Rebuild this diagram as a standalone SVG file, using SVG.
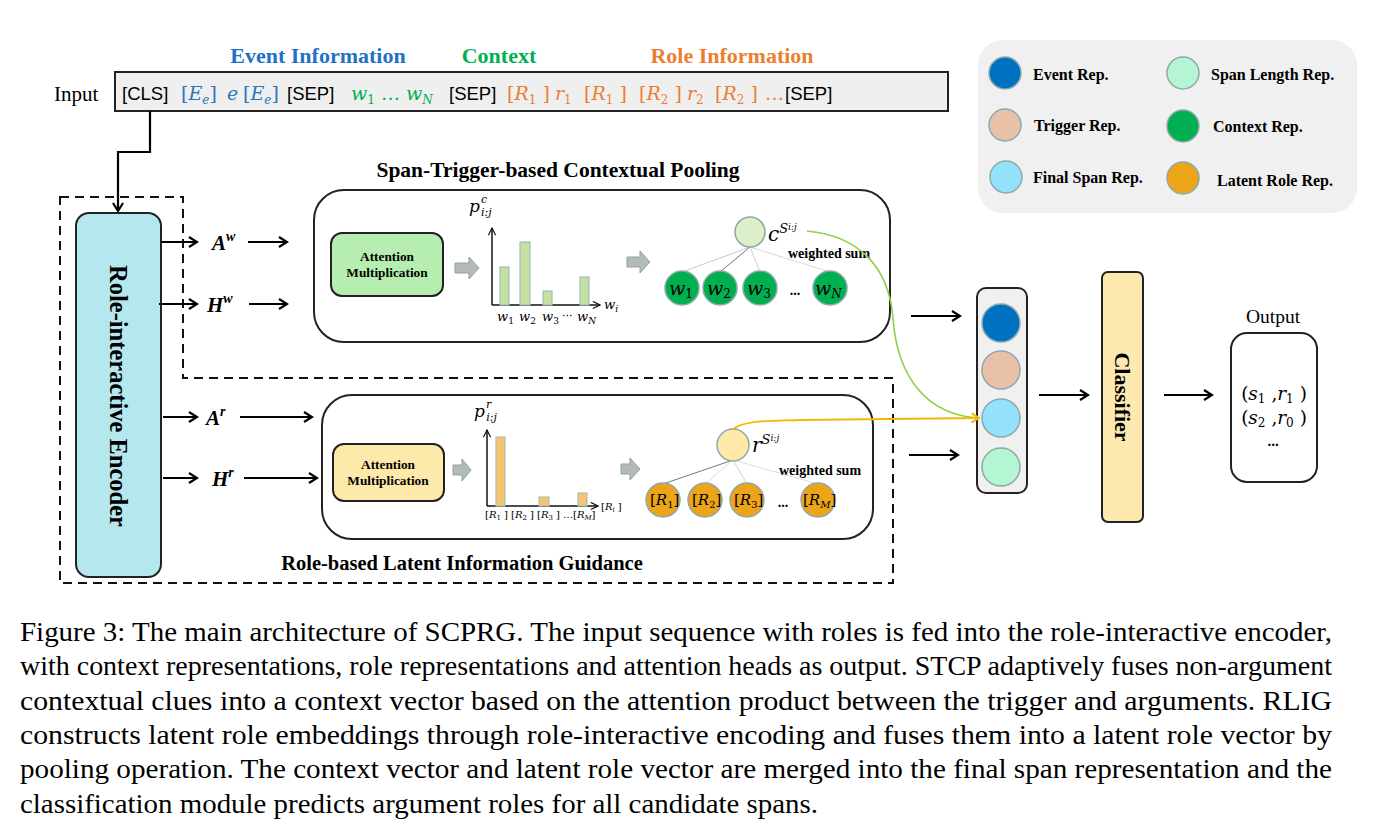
<svg xmlns="http://www.w3.org/2000/svg" width="1378" height="835" viewBox="0 0 1378 835">
<defs>
<style>
.ser{font-family:"Liberation Serif","Times New Roman",serif}
.bs{font-family:"Liberation Serif","Times New Roman",serif;font-weight:bold}
.sans{font-family:"Liberation Sans",Arial,sans-serif}
.m{font-family:"DejaVu Serif","Liberation Serif",serif}
.it{font-style:italic}
.box{stroke:#222;stroke-width:2}
.lg{stroke:#8fa8aa;stroke-width:1.5}
.ar{stroke:#000;stroke-width:2.2;fill:none}
.ga{fill:#b3baba;stroke:#8ea3a3;stroke-width:1}
.bar1{fill:#c6e0a0;stroke:#9fbfbf;stroke-width:1.2}
.bar2{fill:#f6c56c;stroke:#a8c0c0;stroke-width:1.2}
.ax{stroke:#111;stroke-width:1.5;fill:none}
</style>
<marker id="ah" viewBox="0 0 12 12" refX="10" refY="6" markerWidth="12" markerHeight="12" markerUnits="userSpaceOnUse" orient="auto">
<path d="M2,1 L10,6 L2,11" fill="none" stroke="#000" stroke-width="2.2"/>
</marker>
<marker id="axh" viewBox="0 0 10 10" refX="9" refY="5" markerWidth="9" markerHeight="9" markerUnits="userSpaceOnUse" orient="auto">
<path d="M1,1 L9,5 L1,9" fill="none" stroke="#111" stroke-width="1.3"/>
</marker>
<marker id="ahg" viewBox="0 0 12 12" refX="10" refY="6" markerWidth="11" markerHeight="11" markerUnits="userSpaceOnUse" orient="auto">
<path d="M2,1 L10,6 L2,11" fill="none" stroke="#8fd04a" stroke-width="1.6"/>
</marker>
<marker id="ahy" viewBox="0 0 12 12" refX="10" refY="6" markerWidth="11" markerHeight="11" markerUnits="userSpaceOnUse" orient="auto">
<path d="M2,1 L10,6 L2,11" fill="none" stroke="#f5b800" stroke-width="1.8"/>
</marker>
</defs>
<rect width="1378" height="835" fill="#fff"/>

<g id="input">
<text class="bs" x="318" y="63" font-size="22" fill="#1f72c4" text-anchor="middle">Event Information</text>
<text class="bs" x="499" y="63" font-size="22" fill="#00b050" text-anchor="middle">Context</text>
<text class="bs" x="732" y="63" font-size="22" fill="#ed7d31" text-anchor="middle">Role Information</text>
<text class="ser" x="54" y="101" font-size="21">Input</text>
<rect x="115" y="72" width="833" height="39" fill="#efefef" class="box"/>
<text class="sans" x="122" y="100" font-size="18.5">[CLS]</text>
<text class="m" x="181" y="100" font-size="19" fill="#2e75b6">[<tspan class="it">E</tspan><tspan font-size="12" dy="4" class="it">e</tspan><tspan dy="-4">]</tspan></text>
<text class="m it" x="227" y="100" font-size="19" fill="#2e75b6">e</text>
<text class="m" x="243" y="100" font-size="19" fill="#2e75b6">[<tspan class="it">E</tspan><tspan font-size="12" dy="4" class="it">e</tspan><tspan dy="-4">]</tspan></text>
<text class="sans" x="287" y="100" font-size="18.5">[SEP]</text>
<text class="m" x="351" y="100" font-size="19" fill="#00b050"><tspan class="it">w</tspan><tspan font-size="12" dy="4">1</tspan><tspan dy="-4"> … </tspan><tspan class="it">w</tspan><tspan font-size="12" dy="4" class="it">N</tspan></text>
<text class="sans" x="449" y="100" font-size="18.5">[SEP]</text>
<text class="m" x="507" y="100" font-size="19" fill="#ed7d31">[<tspan class="it">R</tspan><tspan font-size="12" dy="4">1</tspan><tspan dy="-4"> ]</tspan></text>
<text class="m" x="555" y="100" font-size="19" fill="#ed7d31"><tspan class="it">r</tspan><tspan font-size="12" dy="4">1</tspan></text>
<text class="m" x="584" y="100" font-size="19" fill="#ed7d31">[<tspan class="it">R</tspan><tspan font-size="12" dy="4">1</tspan><tspan dy="-4"> ]</tspan></text>
<text class="m" x="639" y="100" font-size="19" fill="#ed7d31">[<tspan class="it">R</tspan><tspan font-size="12" dy="4">2</tspan><tspan dy="-4"> ]</tspan></text>
<text class="m" x="687" y="100" font-size="19" fill="#ed7d31"><tspan class="it">r</tspan><tspan font-size="12" dy="4">2</tspan></text>
<text class="m" x="715" y="100" font-size="19" fill="#ed7d31">[<tspan class="it">R</tspan><tspan font-size="12" dy="4">2</tspan><tspan dy="-4"> ]</tspan></text>
<text class="m" x="765" y="100" font-size="19" fill="#ed7d31">…</text>
<text class="sans" x="785" y="100" font-size="18.5">[SEP]</text>
</g>

<g id="legend">
<rect x="978" y="40" width="379" height="173" rx="25" fill="#f0f0f0"/>
<circle cx="1005" cy="73" r="16" fill="#0070c0" class="lg"/>
<circle cx="1005" cy="125" r="16" fill="#e9c1a9" class="lg"/>
<circle cx="1006" cy="177" r="16" fill="#94e1fb" class="lg"/>
<circle cx="1183" cy="73" r="16" fill="#b4f5d4" class="lg"/>
<circle cx="1183" cy="126" r="16" fill="#00b050" class="lg"/>
<circle cx="1183" cy="178" r="16" fill="#eca419" class="lg"/>
<text class="bs" font-size="16" x="1033" y="80">Event Rep.</text>
<text class="bs" font-size="16" x="1034" y="131">Trigger Rep.</text>
<text class="bs" font-size="16" x="1033" y="183">Final Span Rep.</text>
<text class="bs" font-size="16" x="1211" y="80">Span Length Rep.</text>
<text class="bs" font-size="16" x="1213" y="132">Context Rep.</text>
<text class="bs" font-size="16" x="1217" y="186">Latent Role Rep.</text>
</g>

<g id="dashed-region">
<path d="M60,197 H183 V378 H893 V583 H60 Z" fill="none" stroke="#111" stroke-width="2" stroke-dasharray="9,6"/>
</g>

<g id="encoder">
<rect x="76" y="213" width="85" height="364" rx="13" fill="#b5e8ee" class="box"/>
<text class="bs" font-size="24.5" transform="translate(110,396) rotate(90)" text-anchor="middle">Role-interactive Encoder</text>
</g>

<g id="labels-AH">
<text class="bs it" x="212" y="250" font-size="21">A<tspan font-size="14" dy="-9">w</tspan></text>
<text class="bs it" x="207" y="312" font-size="21">H<tspan font-size="14" dy="-9">w</tspan></text>
<text class="bs it" x="206" y="425" font-size="21">A<tspan font-size="14" dy="-9">r</tspan></text>
<text class="bs it" x="212" y="486" font-size="21">H<tspan font-size="14" dy="-9">r</tspan></text>
</g>

<g id="stcp">
<text class="bs" x="558" y="177" font-size="21.5" text-anchor="middle">Span-Trigger-based Contextual Pooling</text>
<rect x="314" y="190" width="576" height="152" rx="30" fill="#fff" class="box"/>
<rect x="331" y="233" width="112" height="63" rx="11" fill="#b5eeb0" class="box"/>
<text class="bs" x="387" y="261" font-size="13.3" text-anchor="middle">Attention</text>
<text class="bs" x="387" y="277" font-size="13.3" text-anchor="middle">Multiplication</text>
<path class="ga" d="M455,263 H469 V257 L479,268 L469,279 V273 H455 Z"/>
<text class="m it" x="469" y="212" font-size="17">p<tspan font-size="11" dx="1" dy="-9">c</tspan><tspan font-size="11" dx="-6" dy="13">i:j</tspan></text>
<path class="ax" d="M492,305 V228" marker-end="url(#axh)"/>
<path class="ax" d="M492,305 H600" marker-end="url(#axh)"/>
<rect class="bar1" x="500" y="267" width="9" height="38"/>
<rect class="bar1" x="520" y="242" width="10" height="63"/>
<rect class="bar1" x="543" y="291" width="9" height="14"/>
<rect class="bar1" x="580" y="277" width="9" height="28"/>
<g class="m" font-size="13">
<text x="497" y="321"><tspan class="it">w</tspan><tspan font-size="9" dy="3">1</tspan></text>
<text x="519" y="321"><tspan class="it">w</tspan><tspan font-size="9" dy="3">2</tspan></text>
<text x="542" y="321"><tspan class="it">w</tspan><tspan font-size="9" dy="3">3</tspan></text>
<text x="562" y="320" font-size="11">···</text>
<text x="577" y="321"><tspan class="it">w</tspan><tspan font-size="9" dy="3" class="it">N</tspan></text>
<text x="604" y="309"><tspan class="it">w</tspan><tspan font-size="9" dy="3" class="it">i</tspan></text>
</g>
<path class="ga" d="M627,257 H640 V251 L650,262 L640,273 V267 H627 Z"/>
<g stroke-width="1">
<line x1="750" y1="247" x2="682" y2="272" stroke="#c8c8c8"/>
<line x1="750" y1="247" x2="720" y2="272" stroke="#777"/>
<line x1="750" y1="247" x2="760" y2="272" stroke="#d0d0d0"/>
<line x1="750" y1="247" x2="830" y2="272" stroke="#d8d8d8"/>
</g>
<circle cx="750" cy="232" r="15" fill="#dcefc8" stroke="#8fa8aa" stroke-width="1.5"/>
<text class="m it" x="768" y="241" font-size="20">c<tspan font-size="13" dy="-8">S</tspan><tspan font-size="9" dy="-3">i:j</tspan></text>
<text class="bs" x="788" y="258" font-size="14">weighted sum</text>
<g fill="#00b050" stroke="#8fa8aa" stroke-width="1.5">
<circle cx="682" cy="288" r="17"/>
<circle cx="720" cy="288" r="17"/>
<circle cx="760" cy="288" r="17"/>
<circle cx="830" cy="288" r="17"/>
</g>
<g class="m" font-size="19">
<text x="669" y="295"><tspan class="it">w</tspan><tspan font-size="12" dy="3">1</tspan></text>
<text x="707" y="295"><tspan class="it">w</tspan><tspan font-size="12" dy="3">2</tspan></text>
<text x="747" y="295"><tspan class="it">w</tspan><tspan font-size="12" dy="3">3</tspan></text>
<text x="815" y="295"><tspan class="it">w</tspan><tspan font-size="12" dy="3" class="it">N</tspan></text>
</g>
<text class="bs" x="795" y="295" font-size="14" text-anchor="middle">...</text>
</g>

<g id="rlig">
<rect x="322" y="395" width="551" height="144" rx="30" fill="#fff" class="box"/>
<text class="bs" x="462" y="570" font-size="20.5" text-anchor="middle">Role-based Latent Information Guidance</text>
<rect x="333" y="444" width="111" height="57" rx="11" fill="#fde9a9" class="box"/>
<text class="bs" x="388" y="469" font-size="13.3" text-anchor="middle">Attention</text>
<text class="bs" x="388" y="485" font-size="13.3" text-anchor="middle">Multiplication</text>
<path class="ga" d="M453,465 H462 V459 L471,470 L462,481 V475 H453 Z"/>
<text class="m it" x="474" y="417" font-size="17">p<tspan font-size="11" dx="1" dy="-9">r</tspan><tspan font-size="11" dx="-5" dy="13">i:j</tspan></text>
<path class="ax" d="M487,506 V430" marker-end="url(#axh)"/>
<path class="ax" d="M487,506 H598" marker-end="url(#axh)"/>
<rect class="bar2" x="496" y="437" width="9" height="69"/>
<rect class="bar2" x="539" y="497" width="10" height="9"/>
<rect class="bar2" x="578" y="493" width="9" height="13"/>
<g class="m" font-size="10">
<text x="485" y="518">[<tspan class="it">R</tspan><tspan font-size="7" dy="2">1</tspan><tspan dy="-2"> ]</tspan></text>
<text x="511" y="518">[<tspan class="it">R</tspan><tspan font-size="7" dy="2">2</tspan><tspan dy="-2"> ]</tspan></text>
<text x="537" y="518">[<tspan class="it">R</tspan><tspan font-size="7" dy="2">3</tspan><tspan dy="-2"> ]</tspan></text>
<text x="563" y="518">…[<tspan class="it">R</tspan><tspan font-size="7" dy="2" class="it">M</tspan><tspan dy="-2">]</tspan></text>
<text x="601" y="510">[<tspan class="it">R</tspan><tspan font-size="7" dy="2" class="it">i</tspan><tspan dy="-2"> ]</tspan></text>
</g>
<path class="ga" d="M621,464 H630 V458 L640,469 L630,480 V474 H621 Z"/>
<g stroke-width="1">
<line x1="733" y1="460" x2="663" y2="484" stroke="#777"/>
<line x1="733" y1="460" x2="705" y2="484" stroke="#ddd"/>
<line x1="733" y1="460" x2="747" y2="484" stroke="#d0d0d0"/>
<line x1="733" y1="460" x2="818" y2="484" stroke="#ddd"/>
</g>
<circle cx="733" cy="445" r="16" fill="#fdeaa8" stroke="#8fa8aa" stroke-width="1.5"/>
<text class="m it" x="752" y="452" font-size="20">r<tspan font-size="13" dy="-8">S</tspan><tspan font-size="9" dy="-3">i:j</tspan></text>
<text class="bs" x="779" y="475" font-size="14">weighted sum</text>
<g fill="#eca419" stroke="#8fa8aa" stroke-width="1.5">
<circle cx="663" cy="500" r="17"/>
<circle cx="705" cy="500" r="17"/>
<circle cx="747" cy="500" r="17"/>
<circle cx="818" cy="500" r="17"/>
</g>
<g class="m" font-size="15">
<text x="650" y="505">[<tspan class="it">R</tspan><tspan font-size="10" dy="3">1</tspan><tspan dy="-3">]</tspan></text>
<text x="692" y="505">[<tspan class="it">R</tspan><tspan font-size="10" dy="3">2</tspan><tspan dy="-3">]</tspan></text>
<text x="734" y="505">[<tspan class="it">R</tspan><tspan font-size="10" dy="3">3</tspan><tspan dy="-3">]</tspan></text>
<text x="803" y="505">[<tspan class="it">R</tspan><tspan font-size="10" dy="3" class="it">M</tspan><tspan dy="-3">]</tspan></text>
</g>
<text class="bs" x="783" y="507" font-size="14" text-anchor="middle">...</text>
</g>

<g id="rep-column">
<rect x="977" y="288" width="50" height="205" rx="9" fill="#f0f0f0" class="box"/>
<circle cx="1001" cy="323" r="19" fill="#0070c0" class="lg"/>
<circle cx="1001" cy="370" r="19" fill="#e9c1a9" class="lg"/>
<circle cx="1001" cy="418" r="19" fill="#94e1fb" class="lg"/>
<circle cx="1001" cy="467" r="19" fill="#b4f5d4" class="lg"/>
</g>

<g id="classifier">
<rect x="1102" y="272" width="41" height="250" rx="6" fill="#fde9b0" class="box"/>
<text class="bs" font-size="22" transform="translate(1115,397) rotate(90)" text-anchor="middle">Classifier</text>
</g>

<g id="output">
<text class="ser" x="1273" y="323" font-size="19.5" text-anchor="middle">Output</text>
<rect x="1231" y="333" width="86" height="149" rx="16" fill="#fff" class="box"/>
<text class="m" x="1274" y="400" font-size="18.5" text-anchor="middle">(<tspan class="it">s</tspan><tspan font-size="12" dy="3">1</tspan><tspan dy="-3"> ,</tspan><tspan class="it">r</tspan><tspan font-size="12" dy="3">1</tspan><tspan dy="-3"> )</tspan></text>
<text class="m" x="1274" y="424" font-size="18.5" text-anchor="middle">(<tspan class="it">s</tspan><tspan font-size="12" dy="3">2</tspan><tspan dy="-3"> ,</tspan><tspan class="it">r</tspan><tspan font-size="12" dy="3">0</tspan><tspan dy="-3"> )</tspan></text>
<text class="bs" x="1273" y="446" font-size="15" text-anchor="middle">...</text>
</g>

<g id="connectors">
<path class="ar" d="M150,111 V152 H118 V211" marker-end="url(#ah)"/>
<path class="ar" d="M161,242 H197" marker-end="url(#ah)"/>
<path class="ar" d="M248,242 H287" marker-end="url(#ah)"/>
<path class="ar" d="M159,304 H197" marker-end="url(#ah)"/>
<path class="ar" d="M249,304 H287" marker-end="url(#ah)"/>
<path class="ar" d="M163,417 H197" marker-end="url(#ah)"/>
<path class="ar" d="M240,417 H312" marker-end="url(#ah)"/>
<path class="ar" d="M163,478 H197" marker-end="url(#ah)"/>
<path class="ar" d="M244,478 H317" marker-end="url(#ah)"/>
<path class="ar" d="M911,316 H960" marker-end="url(#ah)"/>
<path class="ar" d="M909,455 H958" marker-end="url(#ah)"/>
<path class="ar" d="M1039,395 H1088" marker-end="url(#ah)"/>
<path class="ar" d="M1164,395 H1212" marker-end="url(#ah)"/>
<path d="M807,231 C860,236 889,268 893,318 C897,375 925,415 979,418" fill="none" stroke="#8fd04a" stroke-width="1.6" marker-end="url(#ahg)"/>
<path d="M733,429 C745,420 768,421 800,420 L979,418" fill="none" stroke="#f5b800" stroke-width="1.8" marker-end="url(#ahy)"/>
</g>

<g id="caption" font-family="'Liberation Serif','Times New Roman',serif" font-size="27" fill="#000">
<text x="20" y="641" textLength="1312" lengthAdjust="spacingAndGlyphs">Figure 3: The main architecture of SCPRG. The input sequence with roles is fed into the role-interactive encoder,</text>
<text x="20" y="675" textLength="1312" lengthAdjust="spacingAndGlyphs">with context representations, role representations and attention heads as output. STCP adaptively fuses non-argument</text>
<text x="20" y="710" textLength="1312" lengthAdjust="spacingAndGlyphs">contextual clues into a context vector based on the attention product between the trigger and arguments. RLIG</text>
<text x="20" y="744" textLength="1312" lengthAdjust="spacingAndGlyphs">constructs latent role embeddings through role-interactive encoding and fuses them into a latent role vector by</text>
<text x="20" y="778" textLength="1312" lengthAdjust="spacingAndGlyphs">pooling operation. The context vector and latent role vector are merged into the final span representation and the</text>
<text x="20" y="813" textLength="798" lengthAdjust="spacingAndGlyphs">classification module predicts argument roles for all candidate spans.</text>
</g>
</svg>
